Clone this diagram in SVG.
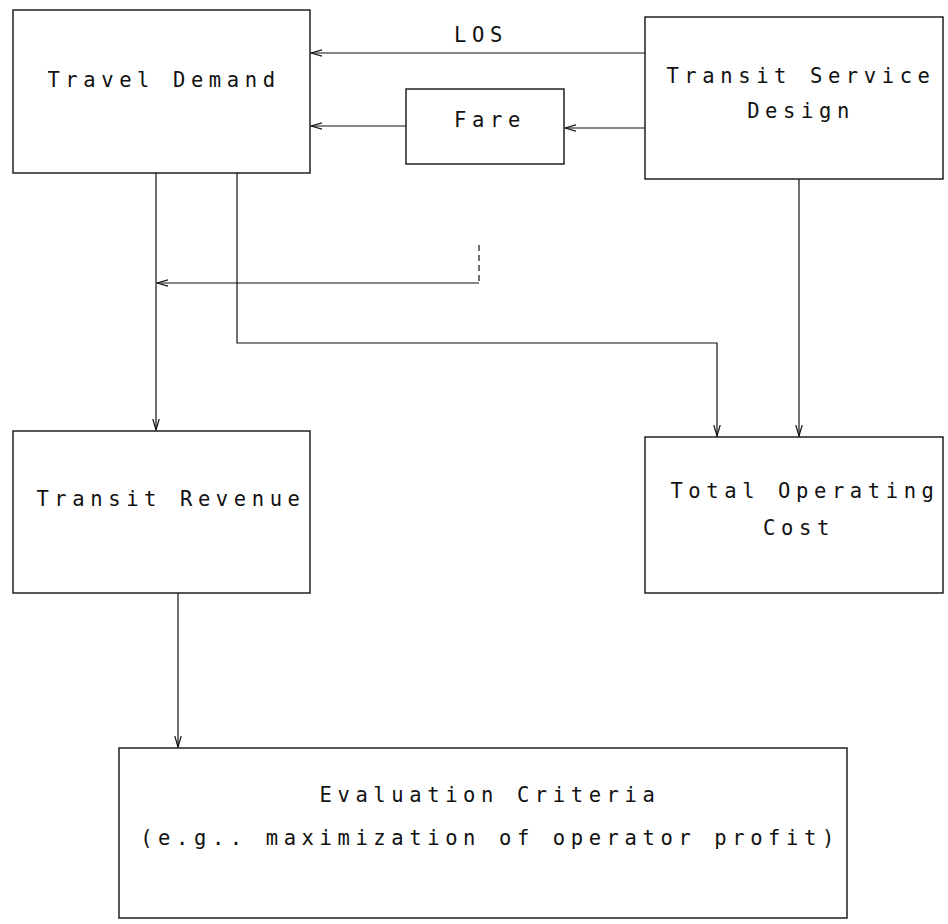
<svg xmlns="http://www.w3.org/2000/svg" width="948" height="924" viewBox="0 0 948 924">
<style>
.box{fill:none;stroke:#111;stroke-width:1.4}
.ln{fill:none;stroke:#111;stroke-width:1.2}
.dash{fill:none;stroke:#111;stroke-width:1.2;stroke-dasharray:6 4}
text{font-family:"DejaVu Sans Mono","Liberation Mono",monospace;font-size:20.5px;fill:#111;text-anchor:middle;letter-spacing:5.6px}
</style>
<defs>
<marker id="ah" markerWidth="12" markerHeight="8" refX="11" refY="4" orient="auto" markerUnits="userSpaceOnUse">
<path d="M0,0.8 L11,4 L0,7.2" fill="none" stroke="#111" stroke-width="1.2"/>
</marker>
</defs>
<rect width="948" height="924" fill="#fff"/>
<g id="travel-demand"><rect class="box" x="13" y="10" width="297" height="163"/><text x="164" y="87">Travel Demand</text></g>
<g id="transit-service-design"><rect class="box" x="645" y="17" width="298" height="162"/><text x="801" y="83">Transit Service</text><text x="801" y="118">Design</text></g>
<g id="fare"><rect class="box" x="406" y="89" width="158" height="75"/><text x="490" y="127">Fare</text></g>
<g id="transit-revenue"><rect class="box" x="13" y="431" width="297" height="162"/><text x="171" y="506">Transit Revenue</text></g>
<g id="total-operating-cost"><rect class="box" x="645" y="437" width="298" height="156"/><text x="805" y="498">Total Operating</text><text x="799" y="535">Cost</text></g>
<g id="evaluation-criteria"><rect class="box" x="119" y="748" width="728" height="170"/><text x="490" y="802">Evaluation Criteria</text><text x="490" y="845">(e.g.. maximization of operator profit)</text></g>
<g id="los-label"><text x="481" y="42">LOS</text></g>
<g id="connectors">
<path class="ln" d="M645,53 L311,53" marker-end="url(#ah)"/>
<path class="ln" d="M406,126 L311,126" marker-end="url(#ah)"/>
<path class="ln" d="M645,128 L565,128" marker-end="url(#ah)"/>
<path class="ln" d="M799,179 L799,436" marker-end="url(#ah)"/>
<path class="ln" d="M156,173 L156,430" marker-end="url(#ah)"/>
<path class="ln" d="M237,173 L237,343 L717,343 L717,436" marker-end="url(#ah)"/>
<path class="dash" d="M479,245 L479,283"/>
<path class="ln" d="M479,283 L157,283" marker-end="url(#ah)"/>
<path class="ln" d="M178,593 L178,747" marker-end="url(#ah)"/>
</g>
</svg>
